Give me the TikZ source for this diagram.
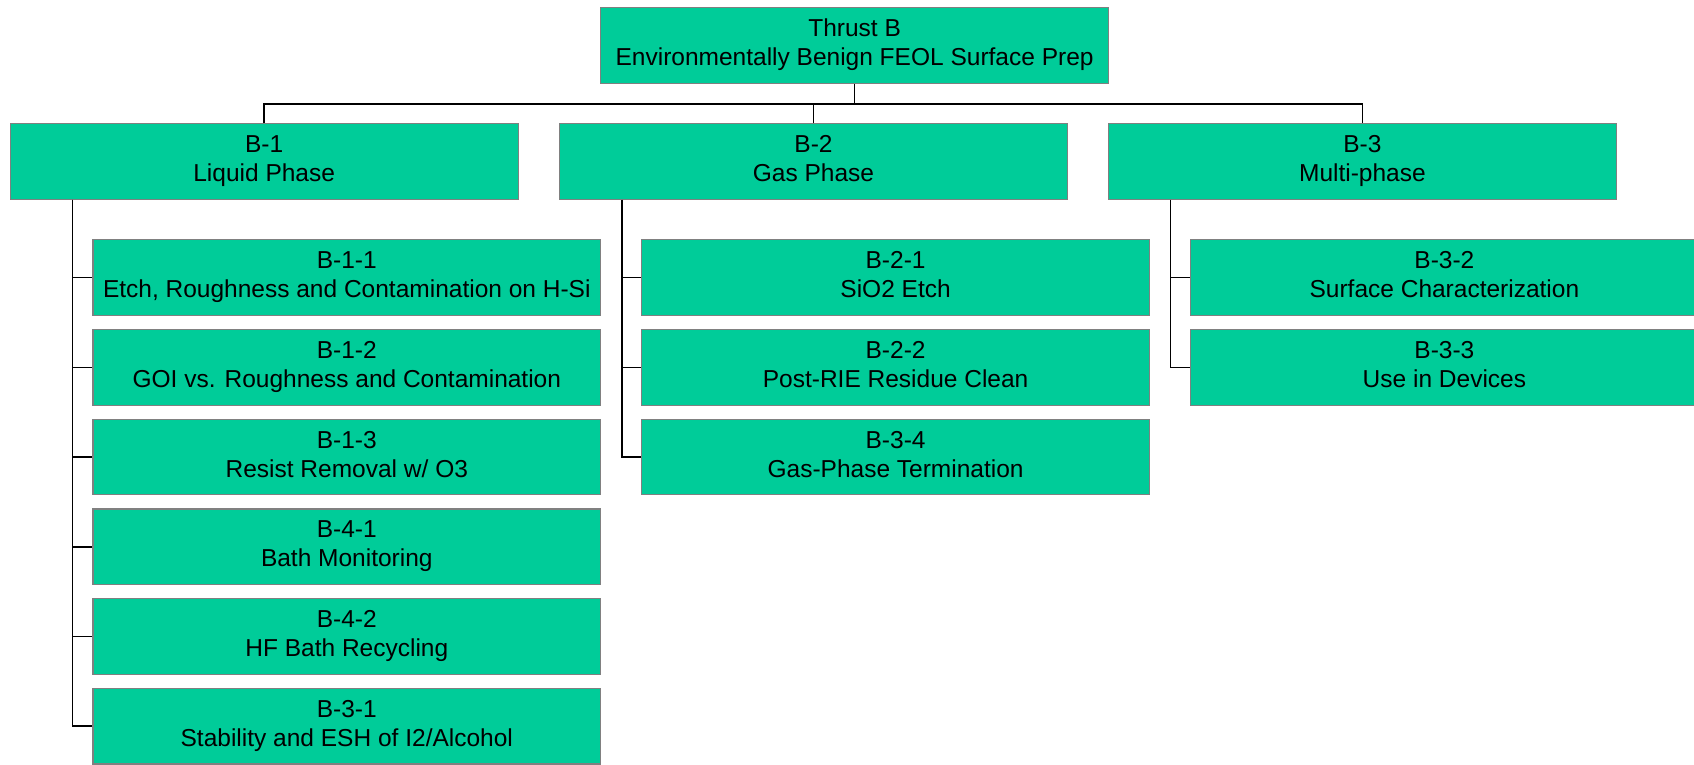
\documentclass[tikz,border=0pt]{standalone}
\usepackage{fontspec}
\setmainfont{Liberation Sans}
\usetikzlibrary{calc}
\usetikzlibrary{positioning}
\definecolor{boxgreen}{HTML}{00CC99}
\definecolor{boxedge}{HTML}{808080}

\begin{document}
\begin{tikzpicture}[x=1pt, y=-1pt,
    wbs/.style={rectangle, draw=boxedge, line width=1.2pt, fill=boxgreen,
        minimum width=507.8pt, minimum height=75.6pt, inner sep=0pt,
        align=center, font=\fontsize{24.5}{29}\selectfont,
        execute at begin node=\rule{0pt}{22pt},
        execute at end node=\rule[-6pt]{0pt}{6pt}},
    link/.style={draw=black, line width=1.6pt}]
            \useasboundingbox (0,0) rectangle (1694,764);
            \clip (0,0) rectangle (1694,764);

            % top and first level
            \node[wbs] (thrust) at (854.6,45.4) {Thrust B\\Environmentally Benign FEOL Surface Prep};
            \node[wbs] (b1) at (264.2,161.5) {B-1\\Liquid Phase};
            \node[wbs] (b2) at (813.5,161.5) {B-2\\Gas Phase};
            \node[wbs] (b3) at (1362.4,161.5) {B-3\\Multi-phase};

            % B-1 tasks
            \node[wbs] (b11) at (346.8,277.6) {B-1-1\\Etch, Roughness and Contamination on H-Si};
            \node[wbs] (b12) at (346.8,367.3) {B-1-2\\GOI vs. Roughness and Contamination};
            \node[wbs] (b13) at (346.8,457.0) {B-1-3\\Resist Removal w/ O3};
            \node[wbs] (b41) at (346.8,546.7) {B-4-1\\Bath Monitoring};
            \node[wbs] (b42) at (346.8,636.4) {B-4-2\\HF Bath Recycling};
            \node[wbs] (b31) at (346.8,726.1) {B-3-1\\Stability and ESH of I2/Alcohol};

            % B-2 tasks
            \node[wbs] (b21) at (895.6,277.6) {B-2-1\\SiO2 Etch};
            \node[wbs] (b22) at (895.6,367.3) {B-2-2\\Post-RIE Residue Clean};
            \node[wbs] (b34) at (895.6,457.0) {B-3-4\\Gas-Phase Termination};

            % B-3 tasks
            \node[wbs] (b32) at (1444.4,277.6) {B-3-2\\Surface Characterization};
            \node[wbs] (b33) at (1444.4,367.3) {B-3-3\\Use in Devices};

            \coordinate (bus) at (854.6,103.7);
            \draw[link] (thrust.south) -- (bus);
            \draw[link] (b1.north) |- (bus -| b3.north) -- (b3.north);
            \draw[link] (b2.north) -- (b2.north |- bus);

            \coordinate (t1) at ($(b1.south west)+(62.7,0)$);
            \coordinate (t2) at ($(b2.south west)+(62.7,0)$);
            \coordinate (t3) at ($(b3.south west)+(62.7,0)$);

            \foreach \c in {b11,b12,b13,b41,b42,b31}
                \draw[link] (t1) |- (\c.west);
            \foreach \c in {b21,b22,b34}
                \draw[link] (t2) |- (\c.west);
            \foreach \c in {b32,b33}
                \draw[link] (t3) |- (\c.west);
        \end{tikzpicture}
\end{document}
